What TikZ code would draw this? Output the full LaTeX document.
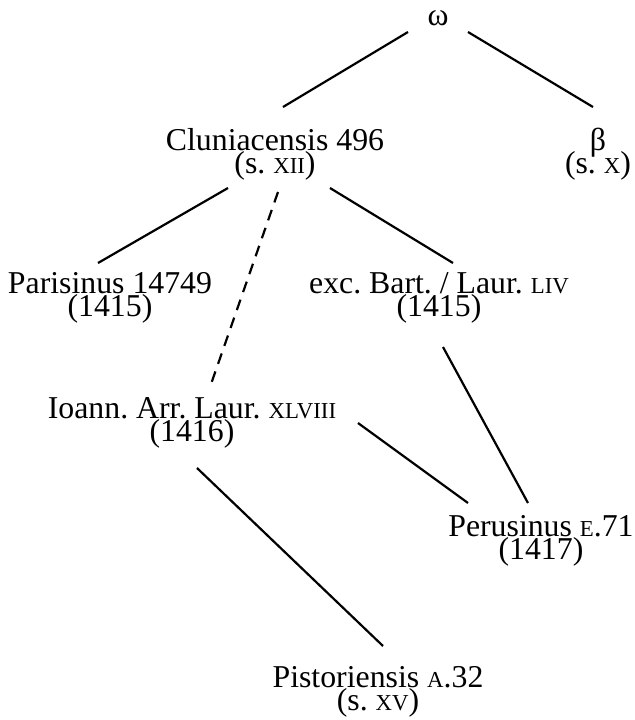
\documentclass[tikz,border=0pt]{standalone}
\usepackage{fontspec}
\setmainfont{Liberation Serif}
\usepackage{tikz}
\usetikzlibrary{calc}
\newcommand{\versalete}[1]{{\fontsize{11.4}{11.5}\selectfont #1}}
\setlength{\lineskiplimit}{-20pt}
\frenchspacing
\tikzset{
  codice/.style={align=center,inner sep=0pt,
    font=\fontsize{15.9}{11.5}\selectfont},
  ligacao/.style={line width=1.1pt},
  duvida/.style={line width=1.1pt,dash pattern=on 5.5pt off 4pt}
}
\begin{document}
\begin{tikzpicture}[x=0.5pt,y=-0.5pt]
  \useasboundingbox (0,0) rectangle (635,720);
  \node[codice] (omega) at (438,18) {ω};
  \node[codice] (clun) at (275,154) {Cluniacensis 496\\(s. \versalete{XII})};
  \node[codice] (beta) at (598,154) {β\\(s. \versalete{X})};
  \node[codice] (paris) at (110,298) {Parisinus 14749\\(1415)};
  \node[codice] (exc) at (439,298) {exc. Bart. / Laur. \versalete{LIV}\\(1415)};
  \node[codice] (ioann) at (192,423) {Ioann. Arr. Laur. \versalete{XLVIII}\\(1416)};
  \node[codice] (perus) at (541,541) {Perusinus \versalete{E}.71\\(1417)};
  \node[codice] (pist) at (378,692) {Pistoriensis \versalete{A}.32\\(s. \versalete{XV})};
  % ligacoes
  \draw[ligacao] ($(omega)+(-30,14)$) -- ($(clun)+(8,-47)$);
  \draw[ligacao] ($(omega)+(30,14)$) -- ($(beta)+(-5,-47)$);
  \draw[ligacao] ($(clun)+(-47,34)$) -- ($(paris)+(-12,-35)$);
  \draw[ligacao] ($(clun)+(55,34)$) -- ($(exc)+(14,-35)$);
  \draw[duvida] ($(clun)+(3,38)$) -- ($(ioann)+(18,-36)$);
  \draw[ligacao] ($(exc)+(4,49)$) -- ($(perus)+(-13,-38)$);
  \draw[ligacao] ($(ioann)+(166,0)$) -- ($(perus)+(-73,-38)$);
  \draw[ligacao] ($(ioann)+(5,45)$) -- ($(pist)+(5,-46)$);
\end{tikzpicture}
\end{document}
